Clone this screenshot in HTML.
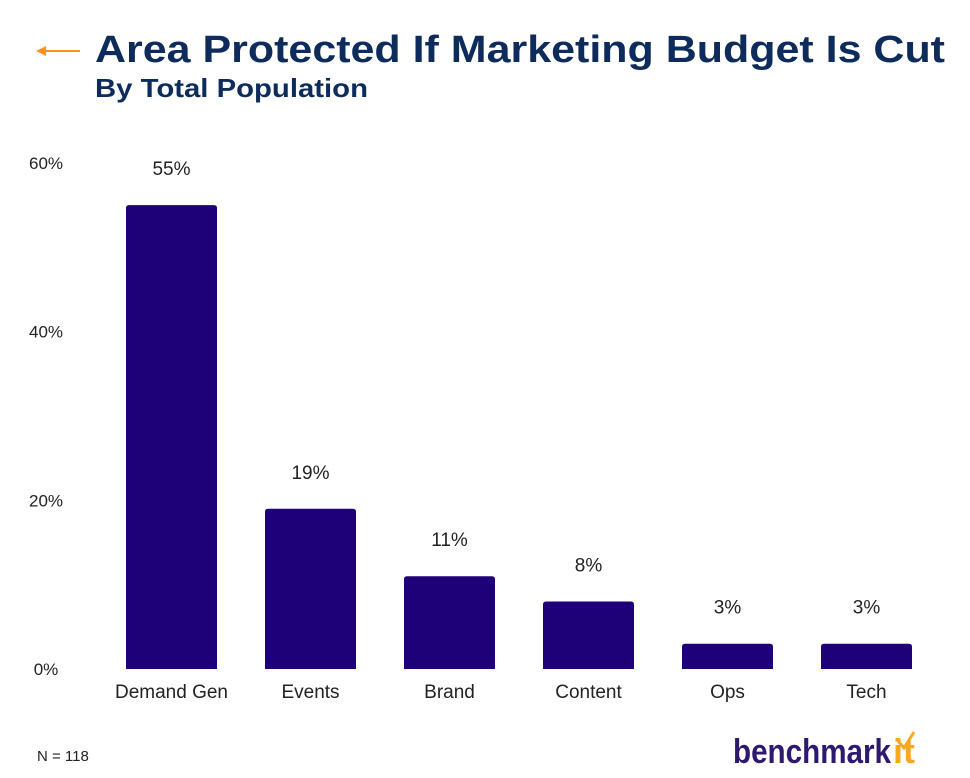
<!DOCTYPE html>
<html><head><meta charset="utf-8"><style>
html,body{margin:0;padding:0;background:#fff;}
svg{display:block;font-family:"Liberation Sans",sans-serif;}
</style></head><body>
<svg id="chart" width="970" height="778" viewBox="0 0 970 778">
  <g>
    <line x1="42" y1="51" x2="80" y2="51" stroke="#f7941d" stroke-width="2"/>
    <polygon points="36,51 46,46 46,56" fill="#f7941d"/>
  </g>
  <text x="95" y="62" font-size="38" font-weight="bold" fill="#0d2c5c" textLength="850" lengthAdjust="spacingAndGlyphs">Area Protected If Marketing Budget Is Cut</text>
  <text x="95" y="97" font-size="26" font-weight="bold" fill="#0d2c5c" textLength="273" lengthAdjust="spacingAndGlyphs">By Total Population</text>
  <g id="yaxis"></g>
  <g id="bars"></g>
  <text x="37" y="761" font-size="15" fill="#222">N = 118</text>
  <g>
    <text x="733" y="763" font-size="34" font-weight="bold" fill="#2e1870" textLength="158" lengthAdjust="spacingAndGlyphs">benchmark</text>
    <text x="893" y="763" font-size="34" font-weight="bold" fill="#f7a823" textLength="22" lengthAdjust="spacingAndGlyphs">it</text>
    <polyline points="898,741 904,748 914,732" fill="none" stroke="#f7a823" stroke-width="3"/>
  </g>
</svg>
<script>
const categories=["Demand Gen","Events","Brand","Content","Ops","Tech"];
const values=[55,19,11,8,3,3];
const valueLabels=["55%","19%","11%","8%","3%","3%"];
const yTicks=[0,20,40,60];
const yTickLabels=["0%","20%","40%","60%"];
const NS="http://www.w3.org/2000/svg";
const y0=669,pxPer=(669-163)/60;
function y(v){return y0-v*pxPer;}
function xC(i){return 171.5+i*139;}
const bw=91;
function mk(tag,attrs,parent){const e=document.createElementNS(NS,tag);for(const k in attrs)e.setAttribute(k,attrs[k]);parent.appendChild(e);return e;}
const ya=document.getElementById('yaxis');
yTicks.forEach((t,i)=>{
  const e=mk('text',{x:46,y:y(t)+6,'font-size':17,fill:'#222','text-anchor':'middle'},ya);
  e.textContent=yTickLabels[i];
  
  
});
const bg=document.getElementById('bars');
categories.forEach((c,i)=>{
  const top=y(values[i]),h=y0-top,x=xC(i)-bw/2,r=Math.min(3,h/2);
  const p=mk('path',{d:`M${x},${y0} V${top+r} Q${x},${top} ${x+r},${top} H${x+bw-r} Q${x+bw},${top} ${x+bw},${top+r} V${y0} Z`,fill:'#1e0079'},bg);
  
  
  const v=mk('text',{x:xC(i),y:top-30,'font-size':19,fill:'#222','text-anchor':'middle'},bg);
  v.textContent=valueLabels[i];
  
  
  const l=mk('text',{x:xC(i),y:698,'font-size':19,fill:'#222','text-anchor':'middle'},bg);
  l.textContent=c;
  
  
});
</script>
</body></html>
